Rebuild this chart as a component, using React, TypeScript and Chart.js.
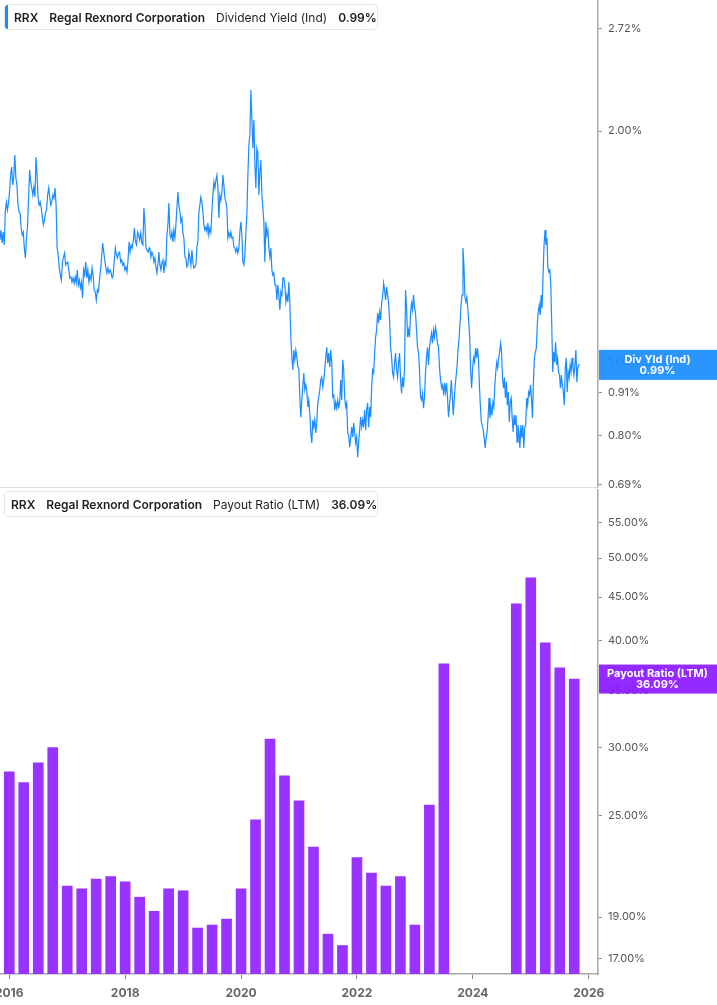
import { useEffect, useRef } from "react";
import Chart from "chart.js/auto";

// dividend yield (%) in four stretches; each stretch is spread evenly between its dates
const yieldSpans = [
  [2015.84, 2018.415],
  [2018.427, 2020.825],
  [2020.842, 2023.407],
  [2023.43, 2025.845],
];
const divYieldA = [
  1.441, 1.485, 1.428, 1.476, 1.42, 1.568, 1.615, 1.577, 1.611, 1.665,
  1.752, 1.795, 1.7, 1.742, 1.861, 1.737, 1.7, 1.601, 1.568, 1.563,
  1.494, 1.463, 1.476, 1.407, 1.365, 1.45, 1.499, 1.635, 1.779, 1.716,
  1.685, 1.65, 1.69, 1.64, 1.85, 1.752, 1.635, 1.601, 1.615, 1.587,
  1.545, 1.508, 1.531, 1.563, 1.577, 1.65, 1.685, 1.64, 1.601, 1.615,
  1.65, 1.635, 1.685, 1.601, 1.407, 1.378, 1.325, 1.297, 1.278, 1.349,
  1.369, 1.386, 1.337, 1.345, 1.349, 1.317, 1.286, 1.29, 1.27, 1.286,
  1.266, 1.29, 1.266, 1.317, 1.259, 1.278, 1.248, 1.27, 1.21, 1.317,
  1.297, 1.349, 1.286, 1.317, 1.27, 1.297, 1.278, 1.325, 1.297, 1.24,
  1.233, 1.203, 1.24, 1.233, 1.278, 1.317, 1.365, 1.428, 1.39, 1.357,
  1.325, 1.305, 1.325, 1.305, 1.317, 1.305, 1.286, 1.297, 1.357, 1.407,
  1.378, 1.365, 1.386, 1.39, 1.349, 1.357, 1.337, 1.345, 1.317, 1.329,
  1.309, 1.357, 1.433, 1.39, 1.42, 1.407, 1.441, 1.494, 1.433, 1.42,
  1.476, 1.463, 1.441, 1.472, 1.428, 1.42, 1.587, 1.508, 1.407, 1.398,
  1.39, 1.407,
];
const divYieldB = [
  1.398, 1.369, 1.39, 1.378, 1.349, 1.365, 1.329, 1.305, 1.337, 1.39,
  1.337, 1.317, 1.345, 1.357, 1.305, 1.349, 1.337, 1.463, 1.508, 1.611,
  1.463, 1.45, 1.476, 1.433, 1.485, 1.45, 1.508, 1.587, 1.665, 1.601,
  1.568, 1.522, 1.54, 1.472, 1.45, 1.369, 1.365, 1.329, 1.337, 1.39,
  1.365, 1.337, 1.398, 1.349, 1.325, 1.329, 1.337, 1.411, 1.433, 1.568,
  1.601, 1.64, 1.615, 1.568, 1.508, 1.485, 1.499, 1.476, 1.517, 1.463,
  1.494, 1.476, 1.568, 1.65, 1.716, 1.685, 1.726, 1.752, 1.685, 1.54,
  1.65, 1.625, 1.66, 1.752, 1.7, 1.635, 1.615, 1.587, 1.45, 1.472,
  1.454, 1.476, 1.45, 1.454, 1.411, 1.407, 1.39, 1.407, 1.386, 1.407,
  1.476, 1.522, 1.463, 1.349, 1.337, 1.378, 1.476, 1.554, 1.752, 1.918,
  1.976, 2.263, 2.08, 1.9, 2.068, 1.806, 1.685, 1.9, 1.878, 1.65,
  1.768, 1.833, 1.65, 1.587, 1.522, 1.349, 1.522, 1.463, 1.485, 1.407,
  1.369, 1.407, 1.317, 1.297, 1.305, 1.259, 1.259, 1.203, 1.259, 1.221,
  1.168, 1.233, 1.221, 1.286, 1.286, 1.259, 1.196, 1.221, 1.196, 1.27,
];
const divYieldC = [
  1.192, 1.076, 1.014, 0.975, 1.035, 1.005, 1.035, 1.014, 0.984, 0.981,
  0.899, 0.846, 0.891, 0.926, 0.966, 0.918, 0.932, 0.918, 0.872, 0.891,
  0.857, 0.807, 0.783, 0.839, 0.821, 0.839, 0.807, 0.831, 0.883, 0.899,
  0.918, 0.946, 0.954, 0.926, 0.946, 0.975, 1.014, 1.044, 0.995, 1.026,
  0.984, 1.035, 0.995, 0.899, 0.904, 0.864, 0.885, 0.869, 0.891, 0.872,
  0.883, 0.946, 0.891, 1.005, 0.975, 0.896, 0.872, 0.883, 0.807, 0.802,
  0.773, 0.795, 0.821, 0.797, 0.831, 0.807, 0.783, 0.797, 0.75, 0.785,
  0.814, 0.846, 0.821, 0.839, 0.821, 0.864, 0.814, 0.864, 0.883, 0.821,
  0.872, 0.846, 0.923, 0.975, 0.966, 1.026, 1.076, 1.099, 1.157, 1.123,
  1.161, 1.133, 1.192, 1.214, 1.266, 1.24, 1.203, 1.251, 1.221, 1.192,
  1.133, 1.044, 1.014, 0.966, 0.954, 0.995, 1.026, 0.975, 0.954, 0.995,
  1.026, 0.946, 0.909, 0.954, 0.926, 0.984, 1.24, 1.178, 1.076, 1.099,
  1.076, 1.157, 1.192, 1.168, 1.221, 1.178, 1.157, 1.099, 1.044, 1.026,
  0.975, 0.899, 0.891, 0.909, 0.869, 0.899, 0.966, 1.014, 1.044, 0.99,
  1.044, 1.067, 1.089, 1.057, 1.099, 1.076, 1.109, 1.089, 1.057, 1.044,
];
const divYieldD = [
  0.969, 0.94, 0.923, 0.932, 0.904, 0.937, 0.912, 0.937, 0.896, 0.846,
  0.877, 0.904, 0.946, 0.896, 0.851, 0.896, 0.932, 0.96, 0.99, 1.041,
  1.073, 1.126, 1.185, 1.221, 1.407, 1.337, 1.214, 1.196, 1.214, 1.174,
  1.126, 1.073, 0.969, 0.923, 0.981, 1.011, 0.998, 1.041, 1.011, 1.041,
  1.011, 0.932, 0.877, 0.834, 0.826, 0.814, 0.795, 0.771, 0.795, 0.809,
  0.844, 0.896, 0.844, 0.872, 0.851, 0.885, 0.872, 0.932, 0.969, 0.998,
  0.981, 1.011, 1.029, 1.057, 1.029, 0.951, 0.923, 0.954, 0.896, 0.94,
  0.877, 0.912, 0.834, 0.885, 0.896, 0.844, 0.809, 0.851, 0.826, 0.851,
  0.785, 0.826, 0.809, 0.771, 0.826, 0.795, 0.826, 0.771, 0.819, 0.826,
  0.896, 0.877, 0.912, 0.904, 0.932, 0.896, 0.844, 0.94, 1.011, 1.029,
  1.041, 1.116, 1.161, 1.185, 1.15, 1.221, 1.174, 1.297, 1.42, 1.485,
  1.42, 1.45, 1.325, 1.309, 1.317, 1.259, 1.116, 0.969, 1.029, 0.998,
  1.06, 0.99, 1.011, 0.969, 0.96, 0.923, 0.96, 0.932, 0.912, 0.877,
  0.981, 1.011, 0.912, 0.969, 0.951, 0.99, 0.969, 1.011, 0.981, 0.96,
  0.99, 1.035, 0.94, 0.981, 0.99, 0.99,
];
const yieldTicks = [0.69, 0.8, 0.91, 1.0, 2.0, 2.72];
const lastYield = 0.99;

// payout ratio (LTM, %) by quarter end
const payoutQuarters = [
  "2015 Q4",
  "2016 Q1", "2016 Q2", "2016 Q3", "2016 Q4",
  "2017 Q1", "2017 Q2", "2017 Q3", "2017 Q4",
  "2018 Q1", "2018 Q2", "2018 Q3", "2018 Q4",
  "2019 Q1", "2019 Q2", "2019 Q3", "2019 Q4",
  "2020 Q1", "2020 Q2", "2020 Q3", "2020 Q4",
  "2021 Q1", "2021 Q2", "2021 Q3", "2021 Q4",
  "2022 Q1", "2022 Q2", "2022 Q3", "2022 Q4",
  "2023 Q1", "2023 Q2",
  "2024 Q3", "2024 Q4",
  "2025 Q1", "2025 Q2", "2025 Q3",
];
const payoutRatio = [
  28.1,
  27.3, 28.8, 30.0, 20.66,
  20.5, 21.05, 21.2, 20.9,
  20.05, 19.3, 20.5, 20.4,
  18.45, 18.6, 18.9, 20.5,
  24.7, 30.7, 27.8, 26.0,
  22.95, 18.15, 17.6, 22.3,
  21.4, 20.66, 21.2, 18.6,
  25.7, 37.6,
  44.2, 47.4,
  39.8, 37.2, 36.09,
];
const payoutTicks = [17, 19, 25, 30, 35, 40, 45, 50, 55];
const lastPayout = 36.09;

const yearTicks = [2016, 2018, 2020, 2022, 2024, 2026];

const X_MIN = 2015.84;
const X_MAX = 2026.16;
const AXIS_W = 119;
const BLUE = "#1a8cff";
const PURPLE = "#9933ff";

Chart.defaults.font.family = "Inter";

const quarterEnd = (q: string) => {
  const [y, qq] = q.split(" Q");
  return Number(y) + Number(qq) / 4;
};

const badgePlugin = (lines: string[], value: number, color: string, h: number) => ({
  id: "badge",
  afterDraw(chart: any) {
    const { ctx } = chart;
    const y = chart.scales.y;
    const py = y.getPixelForValue(value);
    ctx.save();
    ctx.globalAlpha = 0.93;
    ctx.fillStyle = color;
    ctx.fillRect(y.left + 1, py - h / 2, chart.width - y.left - 1, h);
    ctx.globalAlpha = 1;
    ctx.fillStyle = "#fff";
    ctx.font = "bold 11px Inter";
    ctx.textAlign = "center";
    ctx.textBaseline = "middle";
    const cx = (y.left + chart.width) / 2;
    ctx.fillText(lines[0], cx, py - 5.5);
    ctx.fillText(lines[1], cx, py + 5.5);
    ctx.restore();
  },
});

const bottomLine = {
  id: "bottomLine",
  afterDraw(chart: any) {
    const { ctx, chartArea } = chart;
    ctx.save();
    ctx.strokeStyle = "#dedede";
    ctx.lineWidth = 1;
    ctx.beginPath();
    ctx.moveTo(0, chartArea.bottom + 0.5);
    ctx.lineTo(chartArea.right, chartArea.bottom + 0.5);
    ctx.stroke();
    ctx.restore();
  },
};

const yAxis = (min: number, max: number, ticks: number[]) => ({
  type: "logarithmic" as const,
  position: "right" as const,
  min,
  max,
  bounds: "data" as const,
  beginAtZero: false,
  afterBuildTicks: (s: any) => {
    s.ticks = ticks.map((v) => ({ value: v }));
  },
  afterFit: (s: any) => {
    s.width = AXIS_W;
    s.paddingTop = 0;
    s.paddingBottom = 0;
  },
  grid: { drawOnChartArea: false, drawTicks: true, tickLength: 4, color: "#8a8a8a" },
  border: { display: true, color: "#a9a9a9", width: 1.5 },
  ticks: {
    padding: 6,
    color: "#555",
    font: { size: 11 },
    autoSkip: false,
    callback: (v: any) => Number(v).toFixed(2) + "%",
  },
});

const Legend = ({ top, color, metric, value }: { top: number; color: string; metric: string; value: string }) => (
  <div
    style={{
      position: "absolute",
      left: 4,
      top,
      width: 374,
      height: 26,
      boxSizing: "border-box",
      border: "1px solid #e8e8e8",
      borderRadius: 4,
      background: "#fff",
      display: "flex",
      alignItems: "center",
      fontSize: 12,
      color: "#1f1f1f",
      overflow: "hidden",
      whiteSpace: "nowrap",
    }}
  >
    <div style={{ width: 3, alignSelf: "stretch", background: color }} />
    <span style={{ fontWeight: 600, marginLeft: 6 }}>RRX</span>
    <span style={{ fontWeight: 600, marginLeft: 11 }}>Regal Rexnord Corporation</span>
    <span style={{ marginLeft: 11 }}>{metric}</span>
    <span style={{ fontWeight: 600, marginLeft: 11 }}>{value}</span>
  </div>
);

const App = () => {
  const yieldRef = useRef<HTMLCanvasElement | null>(null);
  const payoutRef = useRef<HTMLCanvasElement | null>(null);

  useEffect(() => {
    document.body.style.margin = "0";

    const yieldPoints = [divYieldA, divYieldB, divYieldC, divYieldD].flatMap((vals, k) => {
      const [a, b] = yieldSpans[k];
      return vals.map((v, i) => ({ x: a + (i * (b - a)) / (vals.length - 1), y: v }));
    });
    const payoutPoints = payoutQuarters.map((q, i) => ({ x: quarterEnd(q), y: payoutRatio[i] }));

    let yieldChart: Chart | null = null;
    if (yieldRef.current) {
      yieldChart = new Chart(yieldRef.current, {
        type: "line",
        data: {
          datasets: [
            {
              data: yieldPoints,
              borderColor: BLUE,
              borderWidth: 1.2,
              pointRadius: 0,
              tension: 0,
            },
          ],
        },
        options: {
          animation: false,
          responsive: true,
          maintainAspectRatio: false,
          layout: { padding: { top: 0, left: 0, right: 0, bottom: 2 } },
          plugins: { legend: { display: false }, tooltip: { enabled: false } },
          scales: {
            x: { type: "linear", display: false, min: X_MIN, max: X_MAX, bounds: "data" },
            y: yAxis(0.6857, 2.966, yieldTicks),
          },
        } as any,
        plugins: [bottomLine, badgePlugin(["Div Yld (Ind)", "0.99%"], lastYield, BLUE, 30)],
      });
    }

    let payoutChart: Chart | null = null;
    if (payoutRef.current) {
      payoutChart = new Chart(payoutRef.current, {
        type: "bar",
        data: {
          datasets: [
            {
              data: payoutPoints,
              backgroundColor: PURPLE,
              borderWidth: 0,
              barThickness: 10,
            },
          ],
        },
        options: {
          animation: false,
          responsive: true,
          maintainAspectRatio: false,
          layout: { padding: 0 },
          plugins: { legend: { display: false }, tooltip: { enabled: false } },
          scales: {
            x: {
              type: "linear",
              min: X_MIN,
              max: X_MAX,
              bounds: "data",
              offset: false,
              afterBuildTicks: (s: any) => {
                s.ticks = yearTicks.map((v) => ({ value: v }));
              },
              afterFit: (s: any) => {
                s.height = 31;
                s.paddingLeft = 0;
                s.paddingRight = 0;
              },
              grid: { offset: false, drawOnChartArea: false, drawTicks: true, tickLength: 5, color: "#8a8a8a" },
              border: { display: true, color: "#a9a9a9", width: 1.5 },
              ticks: {
                padding: 7,
                color: "#666",
                font: { size: 12, weight: "bold" },
                autoSkip: false,
                maxRotation: 0,
                callback: (v: any) => String(v),
              },
            },
            y: yAxis(16.3, 60.23, payoutTicks),
          },
        } as any,
        plugins: [badgePlugin(["Payout Ratio (LTM)", "36.09%"], lastPayout, "#8c1aff", 29)],
      });
    }

    return () => {
      yieldChart?.destroy();
      payoutChart?.destroy();
    };
  }, []);

  return (
    <div
      style={{
        position: "relative",
        width: 717,
        height: 1005,
        background: "#fff",
        fontFamily: "Inter, sans-serif",
        overflow: "hidden",
      }}
    >
      <div style={{ position: "absolute", left: 0, top: 0, width: 717, height: 489 }}>
        <canvas ref={yieldRef} />
      </div>
      <div style={{ position: "absolute", left: 0, top: 489, width: 717, height: 516 }}>
        <canvas ref={payoutRef} />
      </div>
      <Legend top={4} color={BLUE} metric="Dividend Yield (Ind)" value="0.99%" />
      <Legend top={491} color={PURPLE} metric="Payout Ratio (LTM)" value="36.09%" />
    </div>
  );
};

export default App;
